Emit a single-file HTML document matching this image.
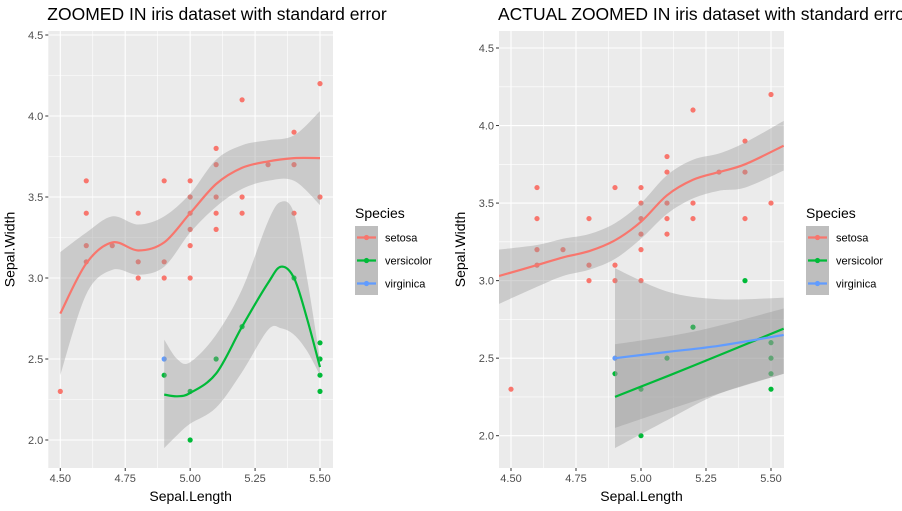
<!DOCTYPE html>
<html><head><meta charset="utf-8">
<style>
body{margin:0;background:#fff;}
svg{display:block;font-family:"Liberation Sans",Arial,sans-serif;}
</style></head>
<body>
<svg id="c" width="902" height="511"></svg>
<script>
const setosaX=[4.5,4.6,4.6,4.6,4.6,4.7,4.8,4.8,4.8,4.9,4.9,4.9,5.0,5.0,5.0,5.0,5.0,5.0,5.1,5.1,5.1,5.1,5.1,5.2,5.2,5.2,5.3,5.4,5.4,5.4,5.5,5.5];
const setosaY=[2.3,3.6,3.4,3.2,3.1,3.2,3.4,3.1,3.0,3.6,3.1,3.0,3.6,3.5,3.4,3.3,3.2,3.0,3.8,3.7,3.5,3.4,3.3,4.1,3.5,3.4,3.7,3.9,3.7,3.4,4.2,3.5];
const versiX=[4.9,5.0,5.0,5.1,5.2,5.4,5.5,5.5,5.5,5.5];
const versiY=[2.4,2.3,2.0,2.5,2.7,3.0,2.6,2.5,2.4,2.3];
const virgX=[4.9];
const virgY=[2.5];
// left panel smooth fits
const L_setFitX=[4.5,4.6,4.7,4.8,4.9,5.0,5.1,5.2,5.3,5.4,5.5];
const L_setFit=[2.78,3.09,3.22,3.17,3.22,3.40,3.58,3.68,3.72,3.74,3.74];
const L_setHi=[3.16,3.28,3.38,3.33,3.38,3.52,3.73,3.82,3.85,3.88,4.03];
const L_setLo=[2.40,2.90,3.05,3.02,3.07,3.28,3.44,3.55,3.60,3.60,3.45];
const L_verFitX=[4.9,4.95,5.0,5.1,5.2,5.3,5.35,5.4,5.45,5.5];
const L_verFit=[2.28,2.27,2.29,2.41,2.70,2.97,3.07,3.0,2.75,2.45];
const L_verHi=[2.62,2.50,2.48,2.65,2.93,3.35,3.47,3.40,3.00,2.50];
const L_verLo=[1.95,2.03,2.10,2.20,2.42,2.68,2.69,2.65,2.55,2.40];
// right panel smooth fits
const R_setFitX=[4.454,4.6,4.7,4.8,4.9,5.0,5.1,5.2,5.3,5.4,5.549];
const R_setFit=[3.03,3.10,3.15,3.19,3.26,3.38,3.55,3.65,3.70,3.75,3.87];
const R_setHi=[3.20,3.23,3.27,3.30,3.37,3.50,3.68,3.78,3.82,3.89,4.03];
const R_setLo=[2.85,2.96,3.03,3.07,3.14,3.27,3.43,3.53,3.58,3.60,3.71];
const R_verFitX=[4.9,5.2,5.549];
const R_verFit=[2.25,2.45,2.69];
const R_verHi=[2.59,2.67,2.82];
const R_verLo=[2.05,2.22,2.40];
const R_virFitX=[4.9,5.1,5.3,5.549];
const R_virFit=[2.50,2.54,2.58,2.65];
const R_virHi=[3.08,2.93,2.88,2.89];
const R_virLo=[1.92,2.10,2.27,2.40];
const xTicks=[4.5,4.75,5.0,5.25,5.5];
const xTickLabels=["4.50","4.75","5.00","5.25","5.50"];
const yTicks=[2.0,2.5,3.0,3.5,4.0,4.5];
const yTickLabels=["2.0","2.5","3.0","3.5","4.0","4.5"];
const species=["setosa","versicolor","virginica"];
const colors=["#F8766D","#00BA38","#619CFF"];

const NS="http://www.w3.org/2000/svg";
const svg=document.getElementById('c');
function mk(tag,attrs,parent,text){const e=document.createElementNS(NS,tag);for(const k in attrs)e.setAttribute(k,attrs[k]);if(text!=null)e.textContent=text;(parent||svg).appendChild(e);return e;}

// Catmull-Rom smooth path through pixel points
function smooth(P,start){
  let d=(start?'M':'L')+P[0][0].toFixed(1)+','+P[0][1].toFixed(1);
  for(let i=0;i<P.length-1;i++){
    const p0=P[Math.max(0,i-1)],p1=P[i],p2=P[i+1],p3=P[Math.min(P.length-1,i+2)];
    const c1=[p1[0]+(p2[0]-p0[0])/6,p1[1]+(p2[1]-p0[1])/6];
    const c2=[p2[0]-(p3[0]-p1[0])/6,p2[1]-(p3[1]-p1[1])/6];
    d+='C'+c1[0].toFixed(1)+','+c1[1].toFixed(1)+' '+c2[0].toFixed(1)+','+c2[1].toFixed(1)+' '+p2[0].toFixed(1)+','+p2[1].toFixed(1);
  }
  return d;
}

function panel(cfg){
  const g=mk('g',{});
  
  
  const {px0,px1,py0,py1,x0,x1,xv0,xv1,y0,y1,yv0,yv1}=cfg;
  const sx=v=>x0+(v-xv0)*(x1-x0)/(xv1-xv0);
  const sy=v=>y0+(v-yv0)*(y1-y0)/(yv1-yv0);
  const bg=mk('rect',{x:px0,y:py0,width:px1-px0,height:py1-py0,fill:'#EBEBEB'},g);
  
  
  for(let i=0;i<xTicks.length-1;i++){const v=(xTicks[i]+xTicks[i+1])/2;mk('line',{x1:sx(v),x2:sx(v),y1:py0,y2:py1,stroke:'#fff','stroke-width':0.6},g);}
  for(let i=0;i<yTicks.length-1;i++){const v=(yTicks[i]+yTicks[i+1])/2;mk('line',{x1:px0,x2:px1,y1:sy(v),y2:sy(v),stroke:'#fff','stroke-width':0.6},g);}
  const lv=yTicks[0]-0.25; if(sy(lv)<py1) mk('line',{x1:px0,x2:px1,y1:sy(lv),y2:sy(lv),stroke:'#fff','stroke-width':0.6},g);
  xTicks.forEach((v,i)=>{
    mk('line',{x1:sx(v),x2:sx(v),y1:py0,y2:py1,stroke:'#fff','stroke-width':1.1},g);
    mk('line',{x1:sx(v),x2:sx(v),y1:py1,y2:py1+3,stroke:'#333','stroke-width':1},g);
    const t=mk('text',{x:sx(v),y:py1+14,'text-anchor':'middle','font-size':11,fill:'#4D4D4D'},g,xTickLabels[i]);
    
    
  });
  yTicks.forEach((v,i)=>{
    mk('line',{x1:px0,x2:px1,y1:sy(v),y2:sy(v),stroke:'#fff','stroke-width':1.1},g);
    mk('line',{x1:px0-3,x2:px0,y1:sy(v),y2:sy(v),stroke:'#333','stroke-width':1},g);
    const t=mk('text',{x:px0-5,y:sy(v)+4,'text-anchor':'end','font-size':11,fill:'#4D4D4D'},g,yTickLabels[i]);
    
    
  });
  const clipId='clip'+cfg.name;
  const cp=mk('clipPath',{id:clipId},g);mk('rect',{x:px0,y:py0,width:px1-px0,height:py1-py0},cp);
  const dg=mk('g',{'clip-path':'url(#'+clipId+')'},g);
  const pts=[[setosaX,setosaY],[versiX,versiY],[virgX,virgY]];
  pts.forEach((p,si)=>{p[0].forEach((xv,i)=>{
    const c=mk('circle',{cx:sx(xv),cy:sy(p[1][i]),r:2.6,fill:colors[si]},dg);
    
    
  });});
  const pp=(xs,ys)=>xs.map((v,i)=>[sx(v),sy(ys[i])]);
  cfg.fits.forEach(f=>{
    const d=smooth(pp(f.x,f.hi),true)+smooth(pp(f.x,f.lo).reverse(),false)+'Z';
    const r=mk('path',{d:d,fill:'#999999','fill-opacity':0.4},dg);
    
    
  });
  cfg.fits.forEach(f=>{
    const l=mk('path',{d:smooth(pp(f.x,f.fit),true),fill:'none',stroke:colors[species.indexOf(f.sp)],'stroke-width':2.2,'stroke-linejoin':'round'},dg);
    
    
  });
  const tt=mk('text',{x:px0-1,y:20,'font-size':17.5,fill:'#000'},g,cfg.title);
  
  
  const xt=mk('text',{x:(px0+px1)/2,y:501,'text-anchor':'middle','font-size':14,fill:'#000'},g,'Sepal.Length');
  
  
  const yx=px0-34,yy=(py0+py1)/2;
  const yt=mk('text',{x:yx,y:yy,'text-anchor':'middle','font-size':14,fill:'#000',transform:'rotate(-90 '+yx+' '+yy+')'},g,'Sepal.Width');
  
  
  const lx=cfg.legX;
  const lg=mk('g',{},g);
  
  
  mk('text',{x:lx,y:218,'font-size':14,fill:'#000'},lg,'Species');
  species.forEach((s,i)=>{
    const ky=226+i*23;
    mk('rect',{x:lx,y:ky,width:23,height:23,fill:'#BEBEBE'},lg);
    mk('line',{x1:lx+2,x2:lx+21,y1:ky+11.5,y2:ky+11.5,stroke:colors[i],'stroke-width':2.2},lg);
    mk('circle',{cx:lx+11.5,cy:ky+11.5,r:2.6,fill:colors[i]},lg);
    const t=mk('text',{x:lx+30,y:ky+15.5,'font-size':11,fill:'#000'},lg,s);
    
    
  });
}
panel({name:'left-panel',title:'ZOOMED IN iris dataset with standard error',px0:48.3,px1:333,py0:31,py1:468,
  x0:60.3,x1:320,xv0:4.5,xv1:5.5,y0:35,y1:440,yv0:4.5,yv1:2.0,legX:355,
  fits:[{sp:'setosa',x:L_setFitX,fit:L_setFit,hi:L_setHi,lo:L_setLo},{sp:'versicolor',x:L_verFitX,fit:L_verFit,hi:L_verHi,lo:L_verLo}]});
panel({name:'right-panel',title:'ACTUAL ZOOMED IN iris dataset with standard error',px0:499,px1:784,py0:31,py1:468,
  x0:511,x1:771,xv0:4.5,xv1:5.5,y0:48,y1:435.7,yv0:4.5,yv1:2.0,legX:806,
  fits:[{sp:'setosa',x:R_setFitX,fit:R_setFit,hi:R_setHi,lo:R_setLo},{sp:'versicolor',x:R_verFitX,fit:R_verFit,hi:R_verHi,lo:R_verLo},{sp:'virginica',x:R_virFitX,fit:R_virFit,hi:R_virHi,lo:R_virLo}]});
</script>
</body></html>
